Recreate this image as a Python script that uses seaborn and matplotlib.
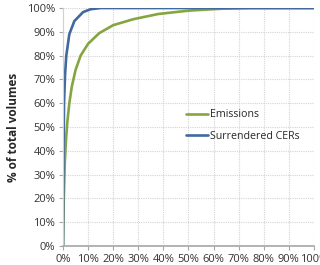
import pandas as pd
import seaborn as sns
import matplotlib.pyplot as plt
from matplotlib.ticker import PercentFormatter

# cumulative share of installations (x) vs cumulative share of volume (y), in %
emis_x = [0, 0.3, 0.7, 1.2, 1.7, 2.5, 3.5, 5, 7, 10, 14.5, 20, 28, 38, 50, 63, 75, 100]
emis_y = [0, 20, 35, 45, 52, 60, 67, 74, 80, 85, 89.5, 92.8, 95.3, 97.5, 98.9, 99.7, 100, 100]

cer_x = [0, 0.1, 0.2, 0.4, 0.8, 1.3, 2.5, 4.5, 8, 11, 15, 100]
cer_y = [0, 20, 40, 60, 72, 80, 89, 94.5, 98.3, 99.5, 100, 100]

series = ["Emissions", "Surrendered CERs"]
colors = ["#86a541", "#41699e"]

df = pd.concat([
    pd.DataFrame({"x": emis_x, "y": emis_y, "series": series[0]}),
    pd.DataFrame({"x": cer_x, "y": cer_y, "series": series[1]}),
])

sns.set_style("white")
plt.rcParams["font.family"] = ["Open Sans", "DejaVu Sans"]

fig = plt.figure(figsize=(3.2, 2.65), dpi=100)
ax = fig.add_axes([0.197, 0.0717, 0.784, 0.898])

sns.lineplot(data=df, x="x", y="y", hue="series", palette=dict(zip(series, colors)),
             linewidth=1.9, ax=ax, sort=False, estimator=None)

ax.set_xlim(0, 100)
ax.set_ylim(0, 100)
ax.set_xticks(range(0, 101, 10))
ax.set_yticks(range(0, 101, 10))
ax.xaxis.set_major_formatter(PercentFormatter(decimals=0))
ax.yaxis.set_major_formatter(PercentFormatter(decimals=0))
ax.grid(True, color="#d4d4d4", linestyle=(0, (1, 1)), linewidth=0.8)

for side in ["top", "right"]:
    ax.spines[side].set_visible(False)
ax.spines["bottom"].set_color("#a6a6a6")
ax.spines["bottom"].set_linewidth(1.2)
ax.spines["left"].set_color("#d0d0d0")
ax.tick_params(axis="both", direction="out", length=3, width=0.8, color="#a6a6a6",
               labelsize=8, labelcolor="#333333", pad=2.5, bottom=True, left=True)

ax.set_xlabel("")
ax.set_ylabel("% of total volumes", fontsize=8.5, fontweight="bold", labelpad=5)

ax.legend(loc="center left", bbox_to_anchor=(0.45, 0.505), frameon=False, fontsize=7.7,
          handlelength=2.1, handletextpad=0.2, labelspacing=1.0)

fig.savefig("out.png", dpi=100)
